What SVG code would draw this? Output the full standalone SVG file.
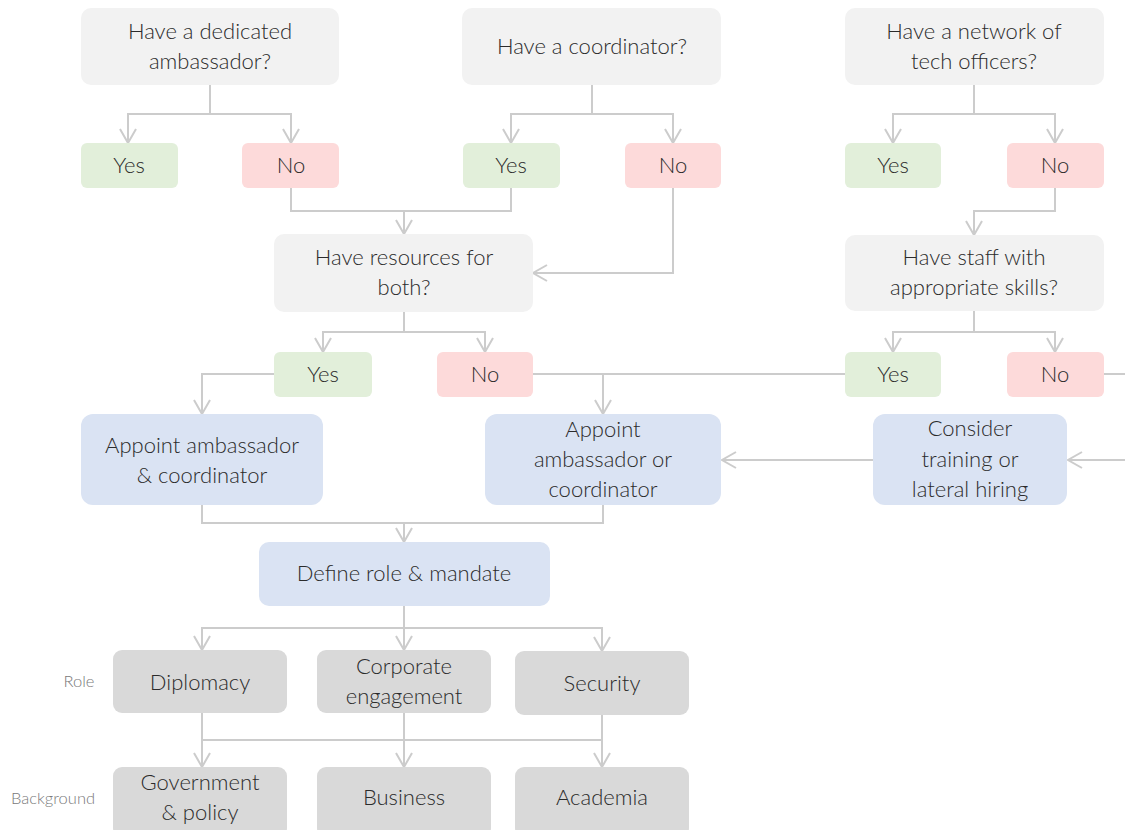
<svg xmlns="http://www.w3.org/2000/svg" width="1125" height="830" viewBox="0 0 1125 830">
<defs>
<marker id="arr" markerUnits="userSpaceOnUse" markerWidth="20" markerHeight="20" viewBox="-16 -10 18 20" refX="0" refY="0" orient="auto">
<path d="M-14,-8 L0,0 L-14,8" fill="none" stroke="#cccccc" stroke-width="2"/>
</marker>
</defs>
<style>
.q{fill:#f2f2f2}
.y{fill:#e2efda}
.n{fill:#fddada}
.b{fill:#dae3f3}
.g{fill:#d9d9d9}
text{font-family:Lato,"Open Sans","Liberation Sans",sans-serif;font-size:22px;font-weight:300;fill:#2b2b2b;text-anchor:middle}
.lbl{font-size:16.5px;fill:#7a7a7a}
.c path{fill:none;stroke:#cccccc;stroke-width:2}
.c path.m{marker-end:url(#arr)}
</style>
<rect width="1125" height="830" fill="#ffffff"/>
<g class="c" id="connectors">
<path class="m" d="M210,85 V114 H128 V143"/>
<path class="m" d="M210,114 H291 V143"/>
<path class="m" d="M592,85 V114 H511 V143"/>
<path class="m" d="M592,114 H673 V143"/>
<path class="m" d="M974,85 V114 H893 V143"/>
<path class="m" d="M974,114 H1055 V143"/>
<path class="m" d="M1055,188 V211 H974 V235"/>
<path class="m" d="M974,311 V332 H893 V352"/>
<path class="m" d="M974,332 H1055 V352"/>
<path d="M291,188 V211 H511 V188"/>
<path class="m" d="M404,211 V234"/>
<path class="m" d="M673,188 V273 H533"/>
<path class="m" d="M404,312 V332 H323 V352"/>
<path class="m" d="M404,332 H485 V352"/>
<path class="m" d="M274,374 H202 V414"/>
<path class="m" d="M533,374 H603 V414"/>
<path d="M845,374 H603"/>
<path d="M1104,374 H1125"/>
<path class="m" d="M1125,460 H1068"/>
<path class="m" d="M873,460 H722"/>
<path d="M202,505 V523 H603 V505"/>
<path class="m" d="M404,523 V542"/>
<path class="m" d="M404,606 V628 H202 V650"/>
<path class="m" d="M404,628 V650"/>
<path class="m" d="M404,628 H602 V651"/>
<path d="M202,713 V740 H602 V715"/>
<path class="m" d="M202,740 V767"/>
<path class="m" d="M404,713 V767"/>
<path class="m" d="M602,740 V767"/>
</g>
<g id="q1"><rect class="q" x="81" y="8" width="258" height="77" rx="10"/><text x="210" y="39">Have a dedicated</text><text x="210" y="69">ambassador?</text></g>
<g id="q2"><rect class="q" x="462" y="8" width="259" height="77" rx="10"/><text x="592" y="54">Have a coordinator?</text></g>
<g id="q3"><rect class="q" x="845" y="8" width="259" height="77" rx="10"/><text x="974" y="39">Have a network of</text><text x="974" y="69">tech officers?</text></g>
<g id="yes1"><rect class="y" x="81" y="143" width="97" height="45" rx="6"/><text x="129" y="173">Yes</text></g>
<g id="no1"><rect class="n" x="242" y="143" width="97" height="45" rx="6"/><text x="291" y="173">No</text></g>
<g id="yes2"><rect class="y" x="463" y="143" width="97" height="45" rx="6"/><text x="511" y="173">Yes</text></g>
<g id="no2"><rect class="n" x="625" y="143" width="96" height="45" rx="6"/><text x="673" y="173">No</text></g>
<g id="yes3"><rect class="y" x="845" y="143" width="96" height="45" rx="6"/><text x="893" y="173">Yes</text></g>
<g id="no3"><rect class="n" x="1007" y="143" width="97" height="45" rx="6"/><text x="1055" y="173">No</text></g>
<g id="qR"><rect class="q" x="274" y="234" width="259" height="78" rx="10"/><text x="404" y="265">Have resources for</text><text x="404" y="295">both?</text></g>
<g id="q4"><rect class="q" x="845" y="235" width="259" height="76" rx="10"/><text x="974" y="265">Have staff with</text><text x="974" y="295">appropriate skills?</text></g>
<g id="yesR"><rect class="y" x="274" y="352" width="98" height="45" rx="6"/><text x="323" y="382">Yes</text></g>
<g id="noR"><rect class="n" x="437" y="352" width="96" height="45" rx="6"/><text x="485" y="382">No</text></g>
<g id="yes4"><rect class="y" x="845" y="352" width="96" height="45" rx="6"/><text x="893" y="382">Yes</text></g>
<g id="no4"><rect class="n" x="1007" y="352" width="97" height="45" rx="6"/><text x="1055" y="382">No</text></g>
<g id="appointBoth"><rect class="b" x="81" y="414" width="242" height="91" rx="12"/><text x="202" y="453">Appoint ambassador</text><text x="202" y="483">&amp; coordinator</text></g>
<g id="appointOne"><rect class="b" x="485" y="414" width="236" height="91" rx="12"/><text x="603" y="437">Appoint</text><text x="603" y="467">ambassador or</text><text x="603" y="497">coordinator</text></g>
<g id="consider"><rect class="b" x="873" y="414" width="194" height="91" rx="12"/><text x="970" y="436">Consider</text><text x="970" y="467">training or</text><text x="970" y="497">lateral hiring</text></g>
<g id="define"><rect class="b" x="259" y="542" width="291" height="64" rx="10"/><text x="404" y="581">Define role &amp; mandate</text></g>
<g id="labelRole"><text class="lbl" x="79" y="687">Role</text></g>
<g id="diplomacy"><rect class="g" x="113" y="650" width="174" height="63" rx="9"/><text x="200" y="690">Diplomacy</text></g>
<g id="corporate"><rect class="g" x="317" y="650" width="174" height="63" rx="9"/><text x="404" y="674">Corporate</text><text x="404" y="704">engagement</text></g>
<g id="security"><rect class="g" x="515" y="651" width="174" height="64" rx="9"/><text x="602" y="691">Security</text></g>
<g id="labelBackground"><text class="lbl" x="53" y="804">Background</text></g>
<g id="government"><rect class="g" x="113" y="767" width="174" height="70" rx="9"/><text x="200" y="790">Government</text><text x="200" y="820">&amp; policy</text></g>
<g id="business"><rect class="g" x="317" y="767" width="174" height="70" rx="9"/><text x="404" y="805">Business</text></g>
<g id="academia"><rect class="g" x="515" y="767" width="174" height="70" rx="9"/><text x="602" y="805">Academia</text></g>
</svg>
